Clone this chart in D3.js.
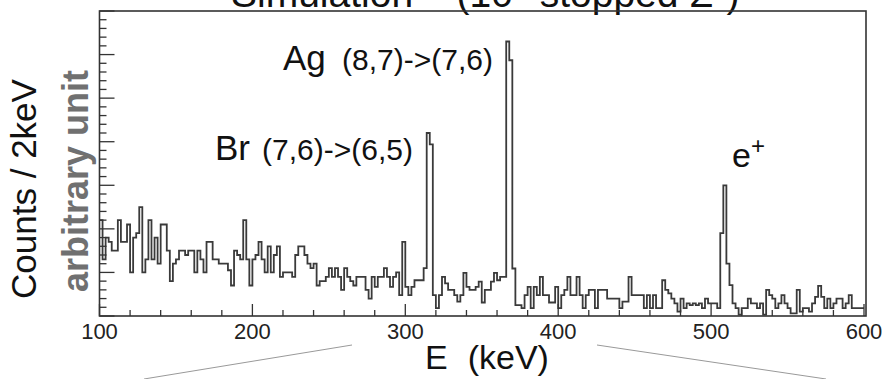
<!DOCTYPE html>
<html>
<head>
<meta charset="utf-8">
<script src="https://cdn.jsdelivr.net/npm/d3@7"></script>
<style>
  body { margin: 0; background: #fff; }
  text { font-family: "Liberation Sans", Arial, Helvetica, sans-serif; }
</style>
</head>
<body>
<div id="chart"></div>
<script>
// simulated spectrum, counts per 2 keV bin starting at 100 keV
const binStart = 100, binWidth = 2;
const counts = [
  22, 13, 18, 17, 15, 15, 22, 17, 17, 21,
  10, 18, 19, 25, 10, 13, 22, 13, 18, 12,
  21, 21, 15, 8, 12, 13, 15, 15, 14, 15,
  15, 10, 15, 13, 10, 17, 17, 13, 13, 12,
  12, 12, 10.5, 7, 15, 14, 13, 22, 13, 7,
  13, 14, 17, 13, 10, 16, 10, 14, 16, 9,
  10, 10, 10, 9, 14, 16, 16, 14, 12, 11,
  12, 7, 8, 8, 9, 11, 9, 11, 9, 6,
  11, 9, 8, 7, 9, 9, 9, 6, 4, 9,
  6.7, 9, 9, 11, 9, 6.7, 9, 10, 4.8, 17,
  6.7, 4.8, 6.7, 8.2, 8.2, 8.2, 11, 42, 39.4, 4.8,
  1.8, 4.8, 9, 7.5, 6, 6, 4.8, 3.3, 4.8, 9.9,
  6.7, 6, 6, 6.7, 7.9, 3.1, 6, 6, 7.9, 9.9,
  8.2, 9, 9, 63, 58.7, 10.9, 2.5, 2.5, 1.8, 4.8,
  6.7, 1.8, 6.7, 4.8, 9, 4.8, 4.8, 3.1, 3.1, 6.7,
  1.8, 4.8, 6, 9, 4.8, 4.8, 9, 4.8, 1.8, 4.8,
  6, 6, 1.8, 6, 6, 6, 4, 4, 4, 4,
  1.8, 3.3, 3.3, 9, 4.8, 4.8, 4.8, 4.8, 1.8, 4.8,
  1.8, 4.8, 1.8, 1.8, 8.2, 6, 5.2, 4, 2.9, 1,
  4, 1.8, 2.9, 2.5, 2.9, 2.5, 2.9, 1.8, 4, 2.9,
  2.9, 2.9, 1.8, 19, 30, 12, 7.1, 2.9, 1.8, 0.3,
  1.8, 1.8, 4, 2.9, 2.9, 1.8, 2.9, 0.3, 6, 4.8,
  4, 1.8, 2.9, 4.8, 2.9, 1.8, 0.6, 0.6, 6, 1,
  1.8, 1.8, 1, 2.9, 4.4, 6.9, 4.4, 1.8, 4, 1.8,
  2.9, 4, 4, 1.8, 2.9, 4.8, 1.8, 1.8, 1.8, 1.8
];
const xTickLabels = [100, 200, 300, 400, 500, 600];
const peakNames = ["Br", "Ag"];
const peakTransitions = ["(7,6)->(6,5)", "(8,7)->(7,6)"];

const width = 882, height = 379;

const x = d3.scaleLinear().domain([100, 600]).range([99.5, 864]);
const y = d3.scaleLinear().domain([0, 70]).range([316, 11]);

const svg = d3.select("#chart")
    .append("svg")
    .attr("width", width)
    .attr("height", height)
    .style("display", "block");

// title, mostly cut off by the top of the picture
svg.append("text")
    .attr("x", 231)
    .attr("y", 7)
    .style("font-size", "39px")
    .attr("fill", "#111")
    .text("Simulation  \u2013  (10\u2076 stopped \u03A3\u207B)");

// histogram as a step line
let pts = [];
counts.forEach((c, i) => {
    let e0 = binStart + i * binWidth;
    pts.push([x(e0), y(c)]);
    pts.push([x(e0 + binWidth), y(c)]);
});
svg.append("path")
    .attr("d", d3.line()(pts))
    .attr("fill", "none")
    .attr("stroke", "#3a3a3a")
    .attr("stroke-width", 1.8);

// ticks, drawn inside the frame
let xMinor = d3.range(100, 601, 20);
svg.append("g")
    .selectAll("line")
    .data(xMinor)
    .join("line")
    .attr("x1", d => x(d)).attr("x2", d => x(d))
    .attr("y1", y(0))
    .attr("y2", d => d % 100 === 0 ? y(0) - 12 : y(0) - 6)
    .attr("stroke", "#333")
    .attr("stroke-width", 1.3);

let yMinor = d3.range(0, 70.1, 2);
svg.append("g")
    .selectAll("line")
    .data(yMinor)
    .join("line")
    .attr("x1", x(100))
    .attr("x2", d => d % 10 === 0 ? x(100) + 15 : x(100) + 7)
    .attr("y1", d => y(d)).attr("y2", d => y(d))
    .attr("stroke", "#333")
    .attr("stroke-width", 1.3);

// frame
svg.append("rect")
    .attr("x", x(100))
    .attr("y", y(70))
    .attr("width", 866 - x(100))
    .attr("height", y(0) - y(70))
    .attr("fill", "none")
    .attr("stroke", "#333")
    .attr("stroke-width", 1.6);

// tick labels
svg.append("g")
    .selectAll("text")
    .data(xTickLabels)
    .join("text")
    .attr("x", d => x(d))
    .attr("y", 339)
    .attr("text-anchor", "middle")
    .style("font-size", "22px")
    .attr("fill", "#222")
    .text(d => d);

// axis titles
let xt = svg.append("text")
    .attr("x", 425)
    .attr("y", 369)
    .style("font-size", "34px")
    .attr("fill", "#111");
xt.append("tspan").text("E");
xt.append("tspan").attr("dx", 20).text("(keV)");

svg.append("text")
    .attr("transform", "translate(36,189) rotate(-90)")
    .attr("text-anchor", "middle")
    .style("font-size", "35px")
    .attr("fill", "#111")
    .text("Counts / 2keV");

svg.append("text")
    .attr("transform", "translate(88,181) rotate(-90)")
    .attr("text-anchor", "middle")
    .style("font-size", "36px")
    .style("font-weight", "bold")
    .attr("fill", "#707070")
    .text("arbitrary unit");

// peak annotations
let labelPos = [[215, 413, 160], [283, 493, 70]];
peakNames.forEach((n, i) => {
    let p = labelPos[i];
    svg.append("text")
        .attr("x", p[0]).attr("y", p[2])
        .style("font-size", "35px")
        .attr("fill", "#111")
        .text(n);
    svg.append("text")
        .attr("x", p[1]).attr("y", p[2])
        .attr("text-anchor", "end")
        .style("font-size", "30px")
        .attr("fill", "#111")
        .text(peakTransitions[i]);
});

let ep = svg.append("text")
    .attr("x", 732)
    .attr("y", 167)
    .style("font-size", "34px")
    .attr("fill", "#111");
ep.append("tspan").text("e");
ep.append("tspan").attr("dy", -13).style("font-size", "24px").text("+");

// grey guide lines below the axis
svg.append("line")
    .attr("x1", 144).attr("y1", 379).attr("x2", 352).attr("y2", 345)
    .attr("stroke", "#999").attr("stroke-width", 1);
svg.append("line")
    .attr("x1", 597).attr("y1", 345).attr("x2", 826).attr("y2", 379)
    .attr("stroke", "#999").attr("stroke-width", 1);
</script>
</body>
</html>
